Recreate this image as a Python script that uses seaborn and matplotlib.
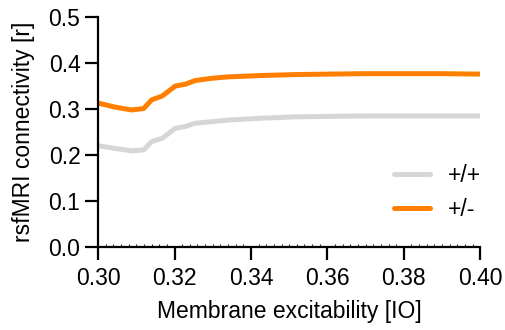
import pandas as pd
import numpy as np
import matplotlib.pyplot as plt
import seaborn as sns
from matplotlib.ticker import MultipleLocator

# values
excitability = [0.300, 0.3045, 0.3088, 0.3119, 0.3140, 0.3167, 0.3202, 0.3228,
                0.3254, 0.3298, 0.3340, 0.3428, 0.3516, 0.3600, 0.3700, 0.3800,
                0.3900, 0.4000]
wt = [0.220, 0.214, 0.209, 0.211, 0.229, 0.236, 0.258, 0.262, 0.269, 0.2725,
      0.276, 0.280, 0.283, 0.284, 0.285, 0.285, 0.285, 0.285]
het = [0.313, 0.304, 0.298, 0.301, 0.320, 0.328, 0.350, 0.354, 0.362, 0.367,
       0.370, 0.373, 0.375, 0.376, 0.377, 0.377, 0.377, 0.376]

df = pd.DataFrame({
    'excitability': excitability * 2,
    'r': wt + het,
    'genotype': ['+/+'] * len(wt) + ['+/-'] * len(het),
})

sns.set_style('ticks')
plt.rcParams['font.family'] = ['Liberation Sans', 'DejaVu Sans']

fig = plt.figure(figsize=(5.06, 3.30), dpi=100)
ax = fig.add_axes([0.194, 0.252, 0.755, 0.696])

sns.lineplot(data=df, x='excitability', y='r', hue='genotype',
             palette={'+/+': '#d6d6d6', '+/-': '#ff8000'}, linewidth=3.6, ax=ax)

ax.set_xlim(0.30, 0.40)
ax.set_ylim(0.0, 0.5)
ax.xaxis.set_major_locator(MultipleLocator(0.02))
ax.xaxis.set_minor_locator(MultipleLocator(0.002))
ax.yaxis.set_major_locator(MultipleLocator(0.1))
ax.xaxis.set_major_formatter(plt.FormatStrFormatter('%.2f'))
ax.yaxis.set_major_formatter(plt.FormatStrFormatter('%.1f'))
ax.tick_params(which='major', length=9.5, width=1.6, labelsize=16.5, color='black',
               labelcolor='black')
ax.tick_params(axis='x', which='major', pad=5)
ax.tick_params(axis='y', which='major', pad=3.3)
ax.tick_params(axis='x', which='minor', direction='in', length=2.5, width=0.8)
for s in ['left', 'bottom']:
    ax.spines[s].set_linewidth(1.6)
    ax.spines[s].set_color('black')
sns.despine(ax=ax)

ax.set_xlabel('Membrane excitability [IO]', fontsize=16.5, color='black', labelpad=7)
ax.set_ylabel('rsfMRI connectivity [r]', fontsize=16.5, color='black', labelpad=10)

leg = ax.legend(frameon=False, fontsize=16.5, handlelength=1.55, handletextpad=0.8,
                labelspacing=0.5, loc='lower right', bbox_to_anchor=(1.056, 0.021))
for t in leg.get_texts():
    t.set_color('black')

fig.savefig('out.png', dpi=100)
